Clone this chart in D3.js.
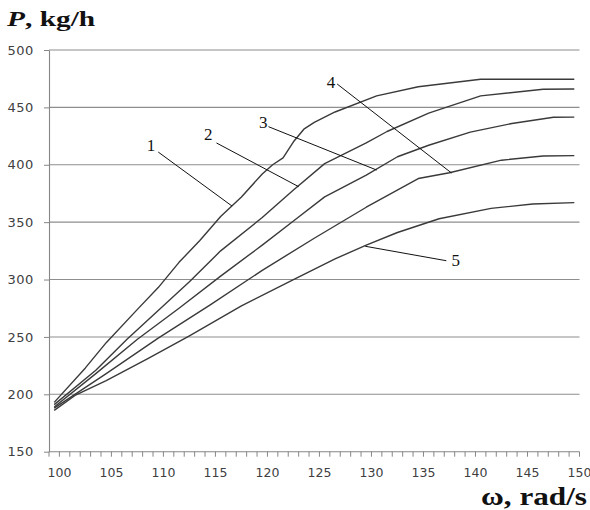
<!DOCTYPE html>
<html>
<head>
<meta charset="utf-8">
<script src="https://cdn.jsdelivr.net/npm/d3@7"></script>
<style>
  html, body { margin: 0; padding: 0; background: #fff; }
  svg { display: block; }
</style>
</head>
<body>
<svg id="chart" width="590" height="510"></svg>
<script>
// ---------- data ----------
const categories = d3.range(100, 151);            // ω, rad/s (category axis)
const xTickLabels = [100, 105, 110, 115, 120, 125, 130, 135, 140, 145, 150];
const yTickLabels = [150, 200, 250, 300, 350, 400, 450, 500];

const curve1W = [100,103,105,108,110,112,114,116,118,120,121,122,123,124,125,127,131,135,141,150];
const curve1P = [193,223,245,274,293,315,334,355,372,392,400,406,420,431,437,446,460,468,474.5,474.5];

const curve2W = [100,104,107,110,113,116,120,123,126,130,132,136,141,147,150];
const curve2P = [191,221,248,273,298,325,354,378,401,419,429,445,460,465.8,466];

const curve3W = [100,104,108,112,116,120,123,126,130,133,136,140,144,148,150];
const curve3P = [189,218,248,275,303,330,351,372,391,407,417,428.5,436,441.4,441.5];

const curve4W = [100,105,110,115,120,125,130,135,138,143,147,150];
const curve4P = [188,218,249,278,308,336,363,388,393,404,407.6,408];

const curve5W = [100,102,105,109,113,118,123,127,130,133,137,142,146,150];
const curve5P = [186,199,212,231,251,277,300,318,330,341,353,362,365.8,367];

const curveNames = ["1", "2", "3", "4", "5"];
// label text position and leader line (from, to) in data units (ω, P)
const labelAt   = [[109.3,417],[114.8,426.8],[120.1,436.8],[126.6,472.1],[138.6,316.6]];
const leaderFrom= [[110.0,411.1],[115.6,419.0],[120.6,433.2],[127.2,470.4],[137.7,316.4]];
const leaderTo  = [[117.1,364.0],[123.5,380.9],[131.0,395.4],[138.2,392.8],[129.9,329.0]];

// ---------- drawing ----------
const svg = d3.select("#chart");

const xBand = d3.scaleBand().domain(categories).range([49, 579.5]).paddingInner(0).paddingOuter(0);
const bw = xBand.bandwidth();
const x = d3.scaleLinear().domain([100, 150])
  .range([xBand(100) + bw / 2, xBand(150) + bw / 2]);
const y = d3.scaleLinear().domain([150, 500]).range([451.7, 50]);

const gridColor = "#8e8e8e";
const axisColor = "#868686";

// horizontal gridlines
svg.append("g").selectAll("line")
  .data(yTickLabels.filter(v => v !== 150))
  .join("line")
  .attr("x1", xBand.range()[0]).attr("x2", xBand.range()[1])
  .attr("y1", d => y(d)).attr("y2", d => y(d))
  .attr("stroke", gridColor).attr("stroke-width", 1.1);

// y axis
const yAxis = svg.append("g")
  .attr("transform", `translate(${xBand.range()[0]},0)`)
  .call(d3.axisLeft(y).tickValues(yTickLabels).tickSize(5).tickSizeOuter(0).tickPadding(10));
yAxis.select(".domain").attr("stroke", axisColor).attr("stroke-width", 1.1);
yAxis.selectAll(".tick line").attr("stroke", axisColor);
yAxis.selectAll(".tick text")
  .attr("font-family", "'DejaVu Sans', Verdana, sans-serif")
  .attr("font-size", 13).attr("letter-spacing", 0.6).attr("fill", "#404040");

// x axis line
svg.append("line")
  .attr("x1", xBand.range()[0]).attr("x2", xBand.range()[1])
  .attr("y1", y(150)).attr("y2", y(150))
  .attr("stroke", axisColor).attr("stroke-width", 1.1);

// x tick marks at category boundaries
const boundaries = categories.map(c => xBand(c)).concat([xBand(150) + bw]);
svg.append("g").selectAll("line")
  .data(boundaries)
  .join("line")
  .attr("x1", d => d).attr("x2", d => d)
  .attr("y1", y(150)).attr("y2", y(150) + 5)
  .attr("stroke", axisColor).attr("stroke-width", 1);

// x tick labels (centered on categories)
const xAxis = svg.append("g")
  .attr("transform", `translate(${bw / 2},${y(150)})`)
  .call(d3.axisBottom(xBand).tickValues(xTickLabels).tickSize(0).tickPadding(16));
xAxis.select(".domain").remove();
xAxis.selectAll(".tick text")
  .attr("font-family", "'DejaVu Sans', Verdana, sans-serif")
  .attr("font-size", 12.5).attr("fill", "#404040");

// curves
const series = [
  curve1W.map((w, i) => [w, curve1P[i]]),
  curve2W.map((w, i) => [w, curve2P[i]]),
  curve3W.map((w, i) => [w, curve3P[i]]),
  curve4W.map((w, i) => [w, curve4P[i]]),
  curve5W.map((w, i) => [w, curve5P[i]])
];
const line = d3.line().x(d => x(d[0])).y(d => y(d[1]));
svg.append("g").selectAll("path")
  .data(series)
  .join("path")
  .attr("d", line)
  .attr("fill", "none")
  .attr("stroke", "#3a3a3a")
  .attr("stroke-width", 1.4)
  .attr("stroke-linejoin", "round");

// leader lines
svg.append("g").selectAll("line")
  .data(curveNames.map((n, i) => [leaderFrom[i], leaderTo[i]]))
  .join("line")
  .attr("x1", d => x(d[0][0])).attr("y1", d => y(d[0][1]))
  .attr("x2", d => x(d[1][0])).attr("y2", d => y(d[1][1]))
  .attr("stroke", "#111").attr("stroke-width", 1);

// curve labels
svg.append("g").selectAll("text")
  .data(curveNames.map((n, i) => ({ n, p: labelAt[i] })))
  .join("text")
  .attr("x", d => x(d.p[0])).attr("y", d => y(d.p[1]))
  .attr("dy", "0.35em")
  .attr("text-anchor", "middle")
  .attr("font-family", "'Liberation Serif', 'Times New Roman', serif")
  .attr("font-size", 17)
  .attr("fill", "#111")
  .text(d => d.n);

// axis titles
const yTitle = svg.append("text")
  .attr("transform", "translate(7,25.7) scale(1.4,1)")
  .attr("font-family", "'Liberation Serif', 'Times New Roman', serif")
  .attr("font-size", 21).attr("font-weight", "bold").attr("fill", "#111");
yTitle.append("tspan").attr("font-style", "italic").text("P");
yTitle.append("tspan").text(", kg/h");

svg.append("text")
  .attr("transform", "translate(587,505) scale(1.2,1)")
  .attr("text-anchor", "end")
  .attr("font-family", "'Liberation Serif', 'Times New Roman', serif")
  .attr("font-size", 26).attr("font-weight", "bold").attr("fill", "#111")
  .text("ω, rad/s");
</script>
</body>
</html>
